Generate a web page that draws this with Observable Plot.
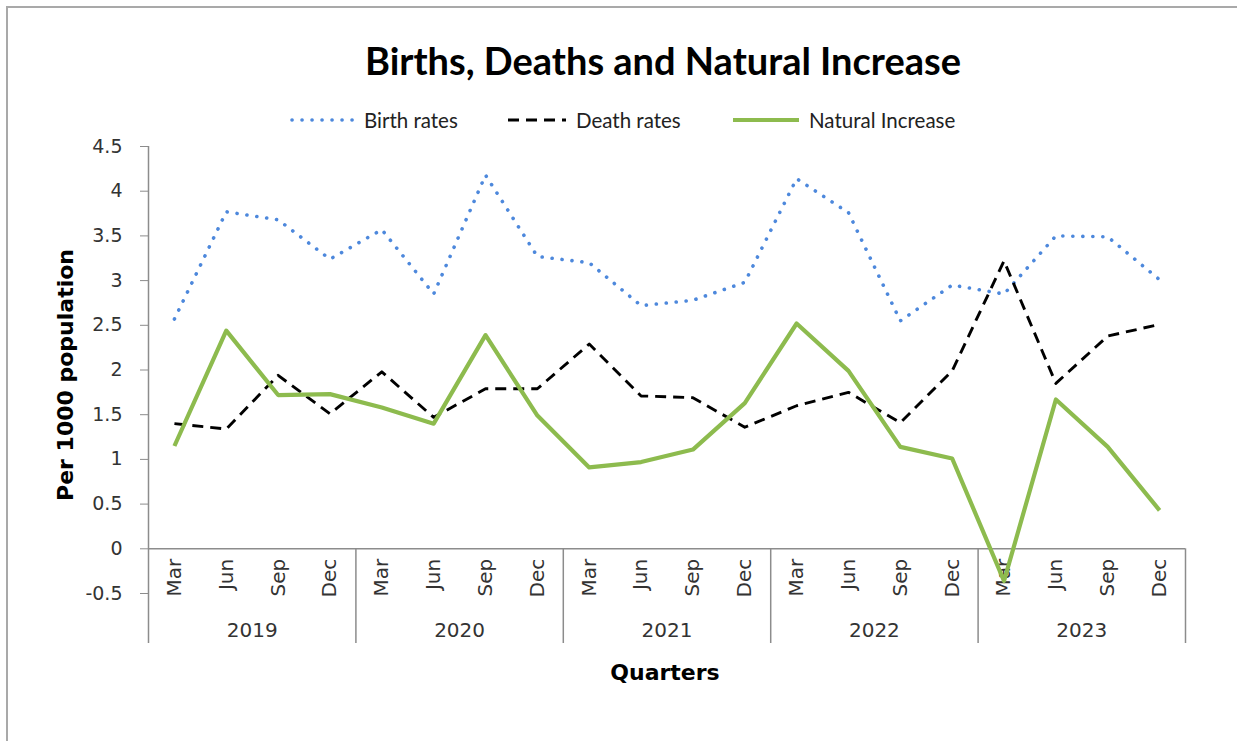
<!DOCTYPE html>
<html><head><meta charset="utf-8">
<script src="https://cdn.jsdelivr.net/npm/d3@7"></script>
<script src="https://cdn.jsdelivr.net/npm/@observablehq/plot@0.6"></script>
<style>
body{margin:0;background:#fff;}
#wrap{position:relative;width:1237px;height:741px;overflow:hidden;background:#fff;}
#border{position:absolute;left:6px;top:6px;width:1400px;height:900px;border-left:2px solid #a9a9a9;border-top:2px solid #a9a9a9;}
#title{position:absolute;left:0;width:1326px;top:36px;text-align:center;font:bold 38px Lato;color:#000;line-height:48px;white-space:nowrap;}
.leg{position:absolute;top:108px;height:24px;display:flex;align-items:center;font:20.5px Lato;color:#222;white-space:nowrap;}
.leg svg{display:block;margin-right:8px;}
#ylab{position:absolute;left:65px;top:375px;transform:translate(-50%,-50%) rotate(-90deg);font:bold 22px "DejaVu Sans";color:#000;white-space:nowrap;}
#xlab{position:absolute;left:0;width:1330px;top:659px;text-align:center;font:bold 22px "DejaVu Sans";color:#000;line-height:28px;}
#chart{position:absolute;left:0;top:130px;}
</style></head>
<body><div id="wrap"><div id="border"></div>
<div id="title">Births, Deaths and Natural Increase</div>
<div id="legend"></div>
<div id="ylab">Per 1000 population</div>
<div id="xlab">Quarters</div>
<div id="chart"></div>
</div>
<script>
const quarters = ["Mar","Jun","Sep","Dec"];
const years = ["2019","2020","2021","2022","2023"];
const birthRates = [2.57,3.77,3.68,3.24, 3.57,2.85,4.18,3.27, 3.20,2.72,2.78,2.98, 4.14,3.76,2.55,2.95, 2.85,3.50,3.49,3.01];
const deathRates = [1.40,1.34,1.94,1.51, 1.98,1.47,1.79,1.79, 2.29,1.71,1.69,1.36, 1.60,1.75,1.41,1.99, 3.22,1.85,2.38,2.51];
const naturalIncrease = [1.15,2.44,1.72,1.73, 1.58,1.40,2.39,1.49, 0.91,0.97,1.11,1.63, 2.52,1.99,1.14,1.01, -0.36,1.67,1.14,0.43];
const yTicks = [-0.5,0,0.5,1,1.5,2,2.5,3,3.5,4,4.5];
const seriesNames = ["Birth rates","Death rates","Natural Increase"];

const gray = "#8c8c8c";
const styles = {
  "Birth rates": {stroke:"#4d88dc", strokeWidth:3.6, strokeDasharray:"0.1,9.9", strokeLinecap:"round"},
  "Death rates": {stroke:"#000", strokeWidth:2.9, strokeDasharray:"11,7", strokeLinecap:"butt"},
  "Natural Increase": {stroke:"#8dbb4e", strokeWidth:4.2, strokeLinecap:"butt"}
};
const idx = d3.range(years.length * quarters.length);
const rows = [];
[birthRates, deathRates, naturalIncrease].forEach((arr, s) => arr.forEach((v, i) => rows.push({series: seriesNames[s], i, v})));
const yearBounds = years.map((_, k) => k * 4 + 3.5);

const chart = Plot.plot({
  width: 1237, height: 530,
  marginTop: 16, marginBottom: 67, marginLeft: 148, marginRight: 52,
  x: {type: "linear", domain: [-0.5, idx.length - 0.5], axis: null},
  y: {domain: [-0.5, 4.5], axis: null},
  style: {fontFamily: "DejaVu Sans", fontSize: "19px", color: "#333", background: "transparent", overflow: "visible"},
  marks: [
    Plot.ruleY([0], {stroke: gray, strokeWidth: 1.5}),
    Plot.ruleX([-0.5], {y1: 4.5, y2: -0.5, insetBottom: -50, stroke: gray, strokeWidth: 1.5}),
    Plot.ruleX(yearBounds, {y1: 0, y2: -0.5, insetBottom: -50, stroke: gray, strokeWidth: 1.5}),
    Plot.axisY({ticks: yTicks, tickSize: 8, tickPadding: 18, tickFormat: d => String(d), stroke: gray, fill: "#333", fontSize: 19, label: null}),
    Plot.text(idx, {x: d => d, y: 0, dy: 10, text: d => quarters[d % 4], rotate: -90, textAnchor: "end", lineAnchor: "middle", fontSize: 20, fill: "#333"}),
    Plot.text(years, {x: (d, k) => k * 4 + 1.5, y: -0.5, dy: 37, text: d => d, fontSize: 20, fill: "#333"}),
    ...seriesNames.map(name => Plot.line(rows.filter(r => r.series === name), {x: "i", y: "v", ...styles[name]}))
  ]
});
document.getElementById("chart").appendChild(chart);

// legend
const legendPos = {"Birth rates": [290, 66], "Death rates": [506, 62], "Natural Increase": [731, 70]};
const legend = document.getElementById("legend");
seriesNames.forEach(name => {
  const [x, w] = legendPos[name];
  const div = document.createElement("div");
  div.className = "leg";
  div.style.left = x + "px";
  const st = styles[name];
  const ns = "http://www.w3.org/2000/svg";
  const svg = document.createElementNS(ns, "svg");
  svg.setAttribute("width", w); svg.setAttribute("height", 10);
  const ln = document.createElementNS(ns, "line");
  ln.setAttribute("x1", 2); ln.setAttribute("x2", w - 2); ln.setAttribute("y1", 5); ln.setAttribute("y2", 5);
  ln.setAttribute("stroke", st.stroke); ln.setAttribute("stroke-width", st.strokeWidth);
  if (st.strokeDasharray) ln.setAttribute("stroke-dasharray", st.strokeDasharray);
  ln.setAttribute("stroke-linecap", st.strokeLinecap);
  svg.appendChild(ln);
  div.appendChild(svg);
  const sp = document.createElement("span"); sp.textContent = name; div.appendChild(sp);
  legend.appendChild(div);
});
</script>
</body></html>
